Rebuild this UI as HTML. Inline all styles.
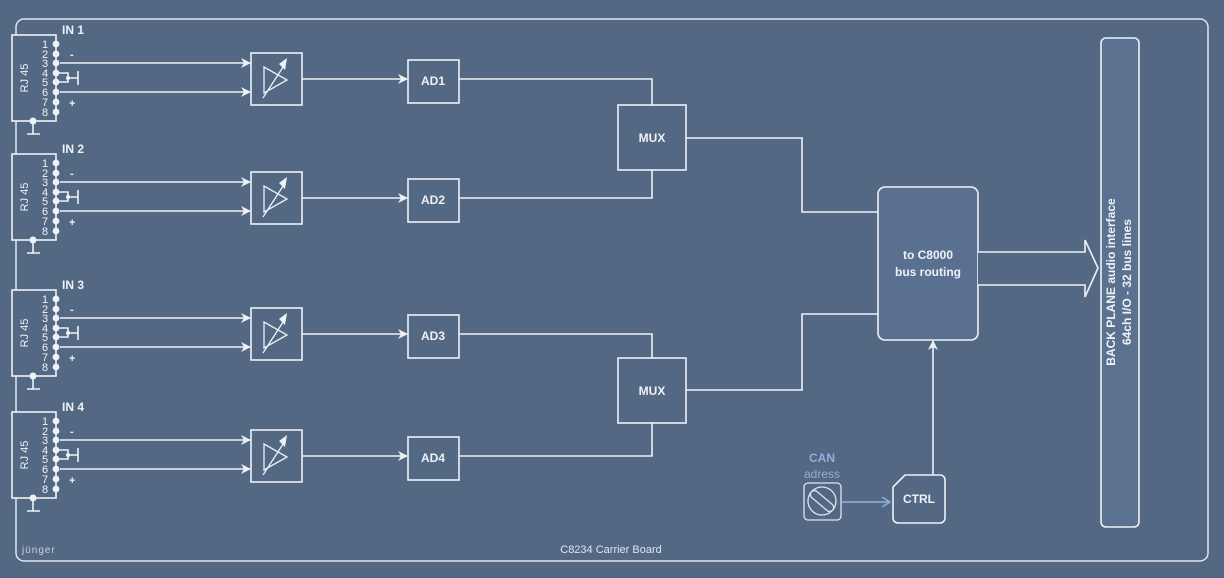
<!DOCTYPE html>
<html><head><meta charset="utf-8"><style>
html,body{margin:0;padding:0;background:#536883;}
svg{display:block;font-family:"Liberation Sans",sans-serif;}
</style></head><body>
<svg width="1224" height="578" viewBox="0 0 1224 578" xmlns="http://www.w3.org/2000/svg">
<defs>
<marker id="ah" markerWidth="10" markerHeight="10" refX="9" refY="5" orient="auto" markerUnits="userSpaceOnUse"><path d="M0,0 L10,5 L0,10 L3,5 Z" fill="#eef2f7"/></marker>
<marker id="ahb" markerWidth="10" markerHeight="10" refX="9" refY="5" orient="auto" markerUnits="userSpaceOnUse"><path d="M1,0 L9,5 L1,10" fill="none" stroke="#8fb0dc" stroke-width="1.5"/></marker>
<g id="ch" stroke="#eef2f7" stroke-width="1.6" fill="none">
  <rect x="12" y="35" width="44" height="86" fill="#536883"/>
  <path d="M33,121 V134 M27,134 H40"/>
  <circle cx="33" cy="121" r="3.5" fill="#eef2f7" stroke="none"/>
  <g fill="#eef2f7" stroke="none">
    <circle cx="56" cy="44" r="3.4"/><circle cx="56" cy="54" r="3.4"/><circle cx="56" cy="63" r="3.4"/><circle cx="56" cy="73" r="3.4"/>
    <circle cx="56" cy="82" r="3.4"/><circle cx="56" cy="92" r="3.4"/><circle cx="56" cy="102" r="3.4"/><circle cx="56" cy="112" r="3.4"/>
  </g>
  <path d="M56,73 H68 V82 H56 M68,78 H78 M78,71 V85"/>
  <circle cx="68" cy="78" r="2" fill="#eef2f7" stroke="none"/>
  <line x1="60" y1="63" x2="250" y2="63" marker-end="url(#ah)"/>
  <line x1="60" y1="92" x2="250" y2="92" marker-end="url(#ah)"/>
  <rect x="251" y="53" width="51" height="52"/>
  <path d="M264,67 L264,93 L287,80 Z M263,98 L285,64" stroke-width="1.3"/>
  <path d="M287,58 L285,70 L279,64 Z" fill="#eef2f7" stroke="none"/>
  <line x1="302" y1="79" x2="407" y2="79" marker-end="url(#ah)"/>
  <rect x="408" y="60" width="51" height="43"/>
</g>
</defs>
<rect x="16" y="19" width="1192" height="542" rx="8" fill="none" stroke="#dfe6ef" stroke-width="1.5"/>
<use href="#ch"/>
<use href="#ch" transform="translate(0,119)"/>
<use href="#ch" transform="translate(0,255)"/>
<use href="#ch" transform="translate(0,377)"/>
<g stroke="#eef2f7" stroke-width="1.6" fill="none">
<path d="M459,79 H652 V105 M459,198 H652 V170 M686,138 H802 V212 H878"/>
<path d="M459,334 H652 V358 M459,456 H652 V423 M686,390 H802 V314 H878"/>
<rect x="618" y="105" width="68" height="65" fill="#536883"/>
<rect x="618" y="358" width="68" height="65" fill="#536883"/>
<rect x="878" y="187" width="100" height="153" rx="7" fill="#5a7090"/>
<rect x="1101" y="38" width="38" height="489" rx="5" fill="#5b7190"/>
<path d="M978,252 H1085 V240 L1098,268 L1085,297 V285 H978" fill="#536883"/>
<line x1="933" y1="475" x2="933" y2="341" marker-end="url(#ah)"/>
<path d="M905,475 H940 a5,5 0 0 1 5,5 V518 a5,5 0 0 1 -5,5 H898 a5,5 0 0 1 -5,-5 V487 Z" fill="#536883"/>
<rect x="804" y="483" width="37" height="37" rx="4" stroke="#dfe6ef" stroke-width="1.3"/>
<circle cx="822" cy="501" r="14" stroke="#dfe6ef" stroke-width="1.3"/>
<rect x="808" y="497" width="28" height="8" rx="4" transform="rotate(40 822 501)" stroke="#dfe6ef" stroke-width="1.3"/>
<line x1="842" y1="502" x2="890" y2="502" stroke="#8fb0dc" marker-end="url(#ahb)"/>
</g>
<g fill="#eef2f7" font-size="11">
<g id="t1">
<text x="28" y="78" transform="rotate(-90 28 78)" text-anchor="middle" font-size="11">RJ 45</text>
<text x="45" y="48" text-anchor="middle">1</text><text x="45" y="58" text-anchor="middle">2</text><text x="45" y="67" text-anchor="middle">3</text><text x="45" y="77" text-anchor="middle">4</text>
<text x="45" y="86" text-anchor="middle">5</text><text x="45" y="96" text-anchor="middle">6</text><text x="45" y="106" text-anchor="middle">7</text><text x="45" y="116" text-anchor="middle">8</text>
<text x="70" y="58" font-weight="bold">-</text><text x="69" y="107" font-weight="bold">+</text>
</g>
<g transform="translate(0,119)"><use href="#t1"/></g>
<g transform="translate(0,255)"><use href="#t1"/></g>
<g transform="translate(0,377)"><use href="#t1"/></g>
<g font-weight="bold" font-size="12">
<text x="62" y="34">IN 1</text><text x="62" y="153">IN 2</text><text x="62" y="289">IN 3</text><text x="62" y="411">IN 4</text>
<text x="433" y="85" text-anchor="middle">AD1</text><text x="433" y="204" text-anchor="middle">AD2</text>
<text x="433" y="340" text-anchor="middle">AD3</text><text x="433" y="462" text-anchor="middle">AD4</text>
<text x="652" y="142" text-anchor="middle">MUX</text><text x="652" y="395" text-anchor="middle">MUX</text>
<text x="928" y="259" text-anchor="middle">to C8000</text><text x="928" y="276" text-anchor="middle">bus routing</text>
<text x="919" y="503" text-anchor="middle">CTRL</text>
<text x="1115" y="282" transform="rotate(-90 1115 282)" text-anchor="middle">BACK PLANE audio interface</text>
<text x="1131" y="282" transform="rotate(-90 1131 282)" text-anchor="middle">64ch I/O - 32 bus lines</text>
</g>
<text x="822" y="462" text-anchor="middle" font-size="12" font-weight="bold" fill="#8fb0dc">CAN</text>
<text x="822" y="478" text-anchor="middle" font-size="12" fill="#8fb0dc">adress</text>
<text x="611" y="553" text-anchor="middle" font-size="11" fill="#dfe6ef">C8234 Carrier Board</text>
<text x="22" y="553" font-size="10" fill="#c8d2de" letter-spacing="1">jünger</text>
</g>
</svg>
</body></html>
